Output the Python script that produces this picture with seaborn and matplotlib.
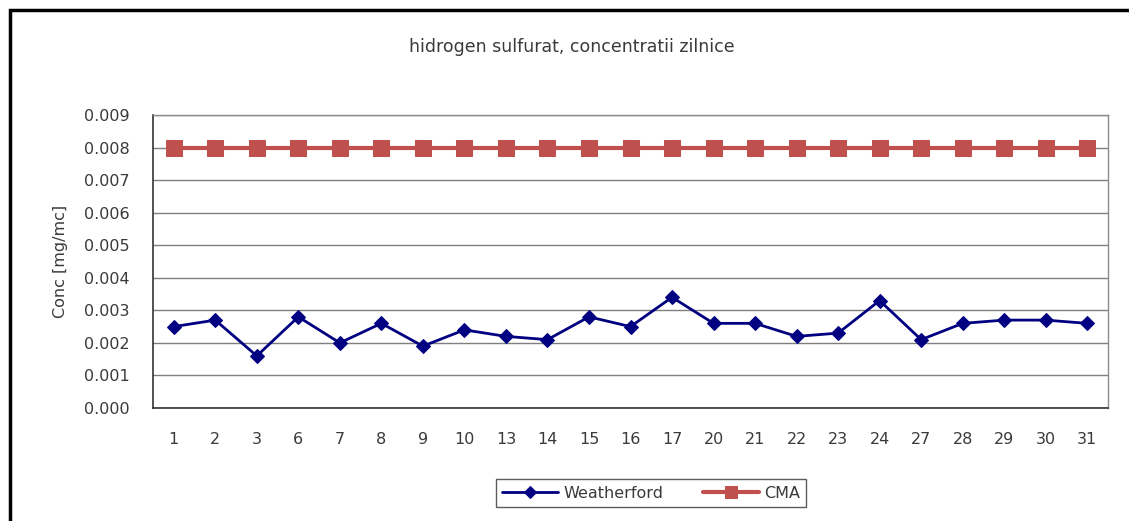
import matplotlib
matplotlib.use("Agg")
import matplotlib.pyplot as plt
import seaborn as sns
import pandas as pd
from matplotlib.patches import Rectangle

days = ["1", "2", "3", "6", "7", "8", "9", "10", "13", "14", "15", "16", "17",
        "20", "21", "22", "23", "24", "27", "28", "29", "30", "31"]
weatherford = [0.0025, 0.0027, 0.0016, 0.0028, 0.0020, 0.0026, 0.0019, 0.0024,
               0.0022, 0.0021, 0.0028, 0.0025, 0.0034, 0.0026, 0.0026, 0.0022,
               0.0023, 0.0033, 0.0021, 0.0026, 0.0027, 0.0027, 0.0026]
cma = [0.008] * len(days)
yticks = [0.000, 0.001, 0.002, 0.003, 0.004, 0.005, 0.006, 0.007, 0.008, 0.009]

sns.set_style("white")
plt.rcParams['font.family'] = ['DejaVu Sans']

FS = 11.5
TXT = "#3a3a3a"

fig = plt.figure(figsize=(11.29, 5.21), dpi=100)
ax = fig.add_axes([153/1129, 1-408/521, (1108-153)/1129, (408-115)/521])

df = pd.DataFrame({"day": days, "Weatherford": weatherford, "CMA": cma})
df["x"] = range(len(days))

sns.lineplot(data=df, x="x", y="Weatherford", ax=ax, color="#000080",
             marker="D", markersize=7, linewidth=2, markeredgecolor="#000080",
             label="Weatherford")
sns.lineplot(data=df, x="x", y="CMA", ax=ax, color="#C0504D",
             marker="s", markersize=11, linewidth=3, markeredgecolor="#C0504D",
             label="CMA")

ax.set_xlim(-0.5, len(days) - 0.5)
ax.set_ylim(0, 0.009)
ax.set_yticks(yticks)
ax.set_yticklabels([f"{v:.3f}" for v in yticks], fontsize=FS, color=TXT)
ax.set_xticks(range(len(days)))
ax.set_xticklabels(days, fontsize=FS, color=TXT)
ax.set_xticks([i - 0.5 for i in range(len(days) + 1)], minor=True)
ax.tick_params(axis="x", which="major", length=0, pad=17)
ax.tick_params(axis="x", which="minor", length=6, width=1, color="#444444", direction="out")
ax.tick_params(axis="y", which="major", length=6, width=1, color="#444444", direction="out", pad=11)
ax.grid(axis="y", color="#7f7f7f", linewidth=1)
ax.set_axisbelow(True)
for s in ["top", "right"]:
    ax.spines[s].set_color("#8c8c8c")
    ax.spines[s].set_linewidth(1)
for s in ["left", "bottom"]:
    ax.spines[s].set_color("#333333")
    ax.spines[s].set_linewidth(1.2)
ax.set_xlabel("")
ax.set_ylabel("Conc [mg/mc]", fontsize=FS, color=TXT, labelpad=11)
ax.get_legend().remove()

fig.text(572/1129, 1 - 47/521, "hidrogen sulfurat, concentratii zilnice", ha="center",
         va="center", fontsize=12.5, color=TXT)

handles, labels = ax.get_legend_handles_labels()
leg = fig.legend(handles, labels, loc="center", bbox_to_anchor=(651/1129, 1 - 493/521),
                 ncol=2, frameon=True, fancybox=False, edgecolor="#333333",
                 fontsize=FS, handlelength=3.5, columnspacing=2.5, borderpad=0.4,
                 handletextpad=0.3)
leg.get_frame().set_linewidth(1)
for h in leg.legend_handles:
    if h.get_marker() == "s":
        h.set_markersize(8)
    else:
        h.set_markersize(6)
for t in leg.get_texts():
    t.set_color(TXT)

fig.add_artist(Rectangle((10/1129, -0.1), 1.2, 1 - 10/521 + 0.1,
                         transform=fig.transFigure, fill=False,
                         edgecolor="black", linewidth=2.5))

fig.savefig("out.png", dpi=100)
